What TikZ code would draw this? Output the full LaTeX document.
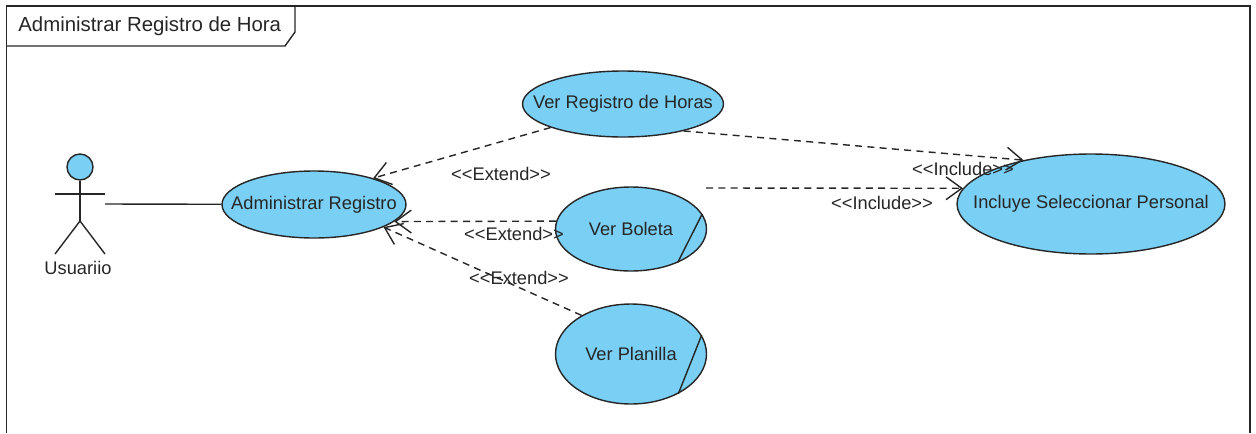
\documentclass[tikz,border=0pt]{standalone}
\usepackage{fontspec}
\setmainfont{Liberation Sans}
\usetikzlibrary{arrows.meta,shapes.geometric}
\definecolor{ucblue}{HTML}{7ACFF5}
\definecolor{ucline}{HTML}{262626}
\tikzset{
    usecase/.style={
           ellipse,
           draw=ucline,
           fill=ucblue,
           line width=0.8pt,
           inner sep=0,
           text=ucline,
           font=\fontsize{10.4}{12}\selectfont,
           },
    pil/.style={
           -{Straight Barb[length=9pt,width=13pt]},
           dashed,
           dash pattern=on 4pt off 3pt,
           draw=ucline,
           line width=0.8pt,
           },
    txt/.style={
           inner sep=0,
           text=ucline,
           font=\fontsize{10.4}{12}\selectfont,
           },
    solid line/.style={
           draw=ucline,
           line width=0.8pt,
           }
}

\begin{document}
\begin{tikzpicture}[x=0.02cm,y=-0.02cm]
\useasboundingbox (0,0) rectangle (1256,433);
% frame and its tab
\draw[solid line] (6.5,433) -- (6.5,6) -- (1250,6) -- (1250,433);
\draw[solid line] (295,6) -- (295,32) -- (285,46) -- (6.5,46);
\node (t0) at (18,26) [txt,anchor=west,font=\fontsize{11.6}{14}\selectfont] {Administrar Registro de Hora};
% actor
\node (a0) at (80,167) [usecase,circle,minimum size=0.52cm] {};
\draw[solid line] (a0.south) -- (80,221);
\draw[solid line] (55,194) -- (105,194);
\draw[solid line] (55,254) -- (80,221) -- (105,254);
\node (t1) at (78,268) [txt] {Usuariio};
\coordinate (c0) at (105,204);
\coordinate (c1) at (706,188);
% use cases
\node (a1) at (314,204.5) [usecase,minimum width=3.68cm,minimum height=1.34cm] {\makebox[0pt]{Administrar Registro}};
\node (a2) at (623,104) [usecase,minimum width=4.02cm,minimum height=1.32cm] {\makebox[0pt]{Ver Registro de Horas}};
\node (a3) at (631,229) [usecase,minimum width=3.02cm,minimum height=1.68cm] {\makebox[0pt]{Ver Boleta}};
\node (a4) at (631,354) [usecase,minimum width=3.02cm,minimum height=2cm] {\makebox[0pt]{Ver Planilla}};
\node (a5) at (1091,204) [usecase,minimum width=5.36cm,minimum height=2cm] {\makebox[0pt]{Incluye Seleccionar Personal}};
\draw[solid line] (a3.12) -- (a3.-36);
\draw[solid line] (a4.15) -- (a4.-40);
% connectors
\path (c0) edge[solid line] (a1);
\path (a2.198) edge[pil] (a1.24);
\path (a3.174) edge[pil] (a1.-12);
\path (a4.142) edge[pil] (a1.-18);
\path (a2.-24) edge[pil] (a5.147);
\path (c1) edge[pil] (a5.173);
% labels
\node (t2) at (501,174) [txt] {<{}<Extend>{}>};
\node (t3) at (514,234) [txt] {<{}<Extend>{}>};
\node (t4) at (519,278) [txt] {<{}<Extend>{}>};
\node (t5) at (963,169) [txt] {<{}<Include>{}>};
\node (t6) at (882,203) [txt] {<{}<Include>{}>};
\end{tikzpicture}
\end{document}
